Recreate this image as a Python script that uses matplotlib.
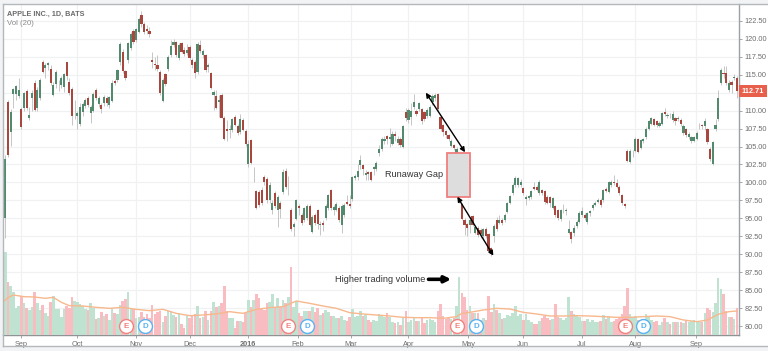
import matplotlib
matplotlib.use("Agg")
import matplotlib.pyplot as plt
from matplotlib.lines import Line2D
from matplotlib.patches import Rectangle
import numpy as np

opens = [110.5,95.0,111.2,107.0,112.3,112.3,112.1,110.2,110.3,112.7,
109.0,111.7,113.9,110.3,111.8,116.8,116.0,116.3,115.8,112.2,
113.7,113.5,113.6,113.3,116.7,114.0,113.0,110.3,109.2,108.1,
109.8,110.7,111.8,109.6,110.0,112.9,110.9,110.8,111.0,111.8,
110.8,111.4,114.1,114.3,116.7,118.2,115.5,117.0,118.7,121.1,
119.8,121.0,123.3,122.0,121.3,121.1,117.0,116.5,116.3,115.4,
111.3,115.1,115.8,117.7,119.2,119.5,117.3,119.4,118.4,118.0,
118.9,117.1,116.7,115.4,119.1,117.7,117.7,116.1,115.2,112.2,
112.0,111.2,112.2,109.0,107.4,107.3,107.3,109.1,107.8,107.0,
108.7,107.2,102.6,105.9,100.7,98.8,98.7,99.0,100.7,100.5,
97.5,96.1,98.5,96.2,97.2,98.6,101.6,100.0,96.2,93.8,
94.9,96.7,95.5,94.8,95.1,96.7,93.1,95.5,96.1,94.0,
94.4,95.0,96.4,98.9,96.2,96.2,96.5,94.1,95.5,97.3,
97.0,97.7,100.6,100.7,102.4,102.4,101.1,101.4,101.4,101.8,
101.9,104.1,104.7,105.8,106.4,106.0,105.4,106.7,105.5,106.0,
104.9,109.8,108.7,109.1,110.5,109.9,110.2,110.2,109.8,109.2,
109.3,111.2,111.7,112.3,109.1,108.0,107.1,106.6,105.1,105.2,
104.1,97.3,97.0,94.8,94.2,94.1,95.3,93.0,93.6,93.4,
92.5,93.5,92.8,90.8,92.5,94.8,94.4,94.8,94.8,95.9,
97.2,98.5,99.6,99.6,99.7,99.2,97.7,97.8,97.9,99.4,
99.3,98.5,98.9,98.8,98.0,97.9,96.5,96.7,96.1,94.9,
96.1,96.0,93.0,93.1,92.9,93.9,94.5,95.5,95.5,94.5,
95.7,96.4,96.9,97.3,97.5,97.5,99.1,98.7,99.6,100.1,
99.9,99.4,98.2,97.0,104.4,102.9,103.9,104.4,106.1,104.8,
105.7,106.3,107.5,108.2,108.8,108.5,107.9,108.2,109.8,109.2,
109.3,108.7,108.9,108.8,108.7,106.9,107.4,106.3,105.8,105.8,
106.1,107.8,108.0,107.9,107.4,104.7,102.6,107.4,108.8,113.8,
115.3,115.2,112.9,114.0,114.5,114.5]

closes = [105.8,103.2,103.8,109.8,113.0,113.4,112.9,107.7,112.4,110.4,
109.4,112.5,110.1,112.8,114.3,115.4,116.4,116.6,113.9,113.6,
115.4,113.6,114.5,115.1,114.8,112.5,109.2,110.4,109.7,110.5,
110.9,111.5,110.8,110.5,112.3,111.7,111.8,110.2,111.9,111.0,
111.9,113.9,113.9,115.6,119.3,115.5,114.6,119.4,120.7,119.6,
121.3,122.7,122.1,121.0,121.1,120.7,116.8,116.3,115.8,112.4,
114.3,113.7,117.5,119.0,119.5,117.7,119.1,118.2,117.9,118.4,
117.3,116.3,115.3,119.3,118.3,118.3,115.6,116.3,113.2,112.6,
110.4,111.5,109.0,106.0,107.2,107.5,108.8,108.0,106.9,108.8,
107.3,105.3,105.4,102.7,100.8,96.5,96.9,97.2,100.0,97.5,
99.6,97.2,96.7,98.0,96.3,101.5,99.4,100.1,93.5,94.2,
97.5,96.5,94.4,96.4,96.7,94.1,95.2,94.3,94.2,94.2,
94.0,96.7,98.2,96.4,96.6,97.0,94.8,96.7,96.8,97.0,
96.7,100.7,100.9,101.6,103.1,101.9,101.3,101.2,100.4,102.1,
102.7,104.7,106.1,106.0,106.0,106.3,106.8,106.4,106.0,105.2,
107.9,108.9,110.1,109.9,111.2,109.5,111.0,108.5,108.8,110.1,
110.5,112.0,112.2,110.2,107.4,107.0,106.6,106.1,105.8,104.8,
104.6,98.0,94.9,94.0,93.7,94.8,94.1,93.8,92.7,92.8,
93.5,92.5,90.4,90.0,93.9,93.5,94.7,94.3,95.5,97.1,
98.1,99.7,100.6,100.6,100.0,98.5,97.9,98.1,98.8,99.1,
99.0,100.0,98.5,97.3,97.2,97.2,97.8,95.4,95.0,96.1,
96.2,96.2,93.5,92.1,93.7,94.5,95.8,96.0,95.1,95.7,
96.0,96.9,97.2,97.5,96.9,98.9,98.8,100.0,100.0,99.9,
99.4,98.5,97.2,96.7,103.0,104.4,104.0,106.1,104.3,105.9,
106.0,107.5,108.5,108.9,108.0,108.0,108.3,109.6,109.5,109.4,
109.2,109.5,108.5,108.9,108.1,107.9,106.6,106.8,106.3,106.3,
106.9,107.9,107.8,108.6,105.6,103.2,105.6,108.0,111.8,115.7,
115.1,113.8,113.8,113.6,114.7,112.71]

highs = [112.0,103.8,111.5,110.2,113.2,113.6,114.6,110.5,112.6,113.0,
110.5,112.8,114.2,113.3,114.5,117.0,116.6,116.8,116.4,114.0,
115.6,114.3,114.8,115.3,116.8,114.6,113.3,111.5,110.0,111.0,
111.2,111.8,112.0,110.8,112.6,113.1,112.0,111.0,112.2,112.0,
112.0,114.3,114.4,115.8,119.5,118.6,115.7,119.6,120.9,121.3,
121.5,123.0,123.9,122.4,121.9,121.7,118.2,117.5,117.7,115.6,
114.5,115.3,117.7,119.9,120.0,119.7,119.4,119.6,118.8,119.3,
119.1,117.3,117.0,119.5,119.9,118.6,117.9,116.6,115.4,112.9,
112.8,112.2,112.5,109.2,108.7,108.0,109.0,109.4,108.1,109.5,
108.9,107.4,105.9,106.1,102.2,99.0,98.9,99.3,101.0,100.8,
100.0,97.5,98.8,98.3,97.4,101.8,102.0,100.9,96.5,94.5,
97.7,97.0,95.8,96.6,97.0,97.0,95.5,95.8,96.3,94.6,
94.7,97.0,98.4,99.1,96.9,97.3,96.7,97.0,97.1,98.2,
98.3,100.9,101.2,102.5,103.8,102.6,101.7,101.6,101.6,102.3,
103.0,105.2,106.3,106.4,106.6,107.6,107.2,107.2,106.4,106.3,
108.0,110.4,110.4,111.0,112.3,110.2,111.2,110.4,110.0,110.3,
110.8,112.3,112.5,112.4,109.3,108.2,107.3,106.8,106.0,105.4,
104.9,98.9,97.2,95.0,94.4,95.2,95.5,94.0,93.9,93.6,
93.7,93.8,93.0,91.0,94.2,95.2,95.4,95.1,95.8,97.3,
98.3,99.9,100.9,100.8,100.5,99.4,98.2,98.3,99.0,100.0,
99.6,100.4,99.1,99.0,98.2,98.1,98.0,96.9,96.3,96.3,
97.0,96.5,94.7,93.3,94.0,94.7,96.0,96.6,95.7,95.9,
96.2,97.1,97.4,97.8,97.8,99.1,99.3,100.2,100.4,101.0,
100.5,99.7,98.4,97.2,104.6,104.6,104.5,106.3,106.2,106.1,
106.2,107.7,108.7,109.1,109.0,108.7,108.5,109.8,110.3,109.6,
109.7,109.9,109.1,109.3,108.9,108.1,107.6,107.0,106.5,106.5,
107.1,108.3,108.2,108.9,107.6,105.0,105.8,108.8,112.9,115.9,
116.2,116.2,114.2,114.3,115.1,114.8]

lows = [104.0,92.2,103.5,105.1,110.3,111.5,111.8,107.4,109.9,110.1,
108.7,110.0,109.9,110.0,111.5,115.2,114.6,115.7,113.6,112.0,
113.1,112.7,113.2,112.6,114.3,112.2,108.0,108.8,107.5,107.8,
109.3,110.3,110.5,108.3,109.8,111.5,110.5,109.7,110.7,110.6,
110.3,111.2,113.6,114.0,116.4,115.2,114.2,116.6,118.4,119.3,
119.5,120.8,121.6,120.6,120.7,120.3,116.0,115.6,115.5,112.2,
111.2,113.4,115.5,117.4,118.9,117.4,117.0,118.0,117.6,117.7,
117.0,116.0,114.5,115.1,118.0,117.3,115.4,115.4,113.0,110.1,
110.2,109.1,108.9,105.9,105.8,106.2,107.0,107.8,106.6,106.8,
107.1,105.1,102.2,102.5,100.0,96.3,96.6,96.9,99.7,97.2,
97.2,95.6,96.4,93.8,95.0,98.4,99.1,98.2,93.3,92.5,
94.7,95.4,94.0,94.5,94.8,93.9,92.9,94.0,93.5,92.7,
93.3,94.8,96.1,96.2,95.5,96.0,94.5,93.0,95.2,96.8,
96.5,97.4,100.3,100.4,101.8,101.0,100.4,100.4,100.2,101.1,
101.6,103.7,104.4,105.4,105.4,105.0,105.2,105.7,105.2,105.0,
104.8,108.6,108.3,108.0,110.2,109.2,109.9,108.2,108.5,108.9,
109.1,110.8,111.4,110.0,107.2,106.5,106.2,105.8,104.9,104.5,
103.8,97.1,94.7,92.7,92.6,93.0,93.9,92.8,92.4,92.2,
92.0,92.2,90.2,89.7,91.7,93.3,94.2,94.0,94.5,95.7,
97.0,98.2,99.3,99.4,99.4,98.2,96.8,97.6,97.7,98.9,
98.8,98.3,98.3,97.0,97.0,96.6,96.3,95.2,94.7,94.6,
95.7,95.5,92.8,91.6,92.6,93.6,94.3,95.2,94.8,94.2,
95.3,96.2,96.7,97.1,96.6,97.3,98.6,98.5,99.4,99.7,
99.2,98.3,96.9,96.4,102.8,102.7,103.6,104.2,104.1,104.6,
105.5,106.1,107.3,108.0,107.8,107.7,107.7,108.0,109.3,109.0,
109.0,108.4,108.0,108.5,107.9,106.6,106.3,106.1,105.5,105.6,
105.9,107.5,107.5,107.3,105.3,103.0,102.4,107.1,108.6,113.6,
114.5,113.5,112.6,112.5,114.2,111.8]

volumes = [198,248,158,148,130,82,87,118,95,82,
75,85,130,97,75,90,65,57,100,117,
78,78,55,78,87,80,113,102,100,92,
88,77,74,95,80,48,52,70,58,62,
45,80,65,63,90,102,108,130,80,78,
50,55,70,55,62,52,90,63,70,73,
40,58,73,70,60,55,65,33,22,58,
52,58,63,88,52,55,72,45,72,100,
83,87,95,148,72,52,52,22,42,42,
40,65,105,85,105,123,110,77,75,95,
100,122,85,110,85,105,95,115,205,85,
102,65,58,72,72,72,83,70,80,60,
65,75,70,57,57,52,52,58,45,42,
55,78,55,58,72,58,60,45,40,45,
42,62,58,55,67,55,38,35,38,30,
50,72,40,45,55,42,42,52,35,45,
48,45,38,72,93,58,48,52,48,50,
87,175,125,115,75,87,65,65,65,45,
50,45,117,70,92,75,65,48,50,60,
58,65,87,58,62,45,62,45,38,33,
32,42,50,58,50,46,48,93,55,52,
45,50,115,72,62,58,55,42,42,48,
40,45,40,38,42,60,48,57,40,42,
48,55,62,87,140,62,55,58,45,45,
42,62,58,45,38,42,30,38,50,40,
34,38,38,38,38,35,42,40,42,45,
40,40,38,65,82,75,68,95,172,138,
122,72,55,55,48,82]

ma_index = [0,2,4,8,12,16,19,22,25,30,35,40,45,50,55,60,65,70,75,80,85,90,95,100,105,108,110,115,120,125,
130,135,140,145,150,155,160,165,170,172,175,180,185,190,195,200,205,210,215,220,225,230,235,240,245,250,255,260,264,268,272,275]
ma_values = [98,112,120,115,114,110,113,98,88,87,83,80,83,77,73,77,65,58,60,63,70,65,77,82,85,95,102,95,87,80,
67,63,60,57,53,52,52,50,55,65,68,75,80,78,68,63,57,57,58,57,55,53,53,55,57,55,45,40,45,62,70,72]

month_labels = ["Sep","Oct","Nov","Dec","2016","Feb","Mar","Apr","May","Jun","Jul","Aug","Sep"]
month_index = [7,28,50,70,92,110.5,130.5,152,174.3,195,217,237,259.7]
price_ticks = [80+2.5*k for k in range(18)]
earnings_index = [46.2,106.9,170.2,233]
dividend_index = [53.3,114,177.3,239.8]
last_price = 112.71

W, H = 768, 351
fig = plt.figure(figsize=(W/100, H/100), dpi=100, facecolor="#f1f3f5")
plt.rcParams["font.family"] = ["Liberation Sans", "DejaVu Sans"]

L, R, T, B = 2.5, 739, 3.5, 335
rect = [L/W, 1-B/H, (R-L)/W, (B-T)/H]
fig.add_artist(Rectangle((L/W, 1-346/H), (W-L)/W, (346-T)/H, transform=fig.transFigure,
                         fc="white", ec="none", zorder=-5))

ax = fig.add_axes(rect, facecolor="white", zorder=1)
ax2 = ax.twinx()
ax2.set_zorder(2)
ax2.patch.set_visible(False)

x = np.arange(len(opens))
o, c, h, l = map(np.array, (opens, closes, highs, lows))
up = c >= o
GREEN, RED = "#53896c", "#a8473d"

ax.set_xlim(-0.05, 275.8)
ax.set_ylim(80+(326-335)/7.18, 80+(326-3.5)/7.18)
ax2.set_ylim(0, (B-T)*3)

ax.vlines(x, l, h, color="#bdbdbd", lw=0.6, zorder=3)
ax.bar(x, np.abs(c-o), bottom=np.minimum(o, c), width=0.8,
       color=np.where(up, GREEN, RED), linewidth=0, zorder=4)

ax2.bar(x, volumes, width=0.96, color=np.where(up, "#bfe2d1", "#f8bcc1"), linewidth=0, zorder=2)
ax2.plot(ma_index, ma_values, color="#f7b88d", lw=1.0, zorder=3)
ax2.set_yticks([])
for s in ax2.spines.values():
    s.set_visible(False)

ax.set_xticks(month_index)
ax.set_xticklabels(month_labels, fontsize=5.3, color="#6d6d6d")
ax.get_xticklabels()[4].set_fontweight("bold")
ax.yaxis.tick_right()
ax.set_yticks(price_ticks)
# the 112.50 label sits under the last-price flag in the reference
ax.set_yticklabels(["" if p == 112.5 else f"{p:.2f}" for p in price_ticks], fontsize=5.3, color="#6d6d6d")
ax.tick_params(axis="x", length=2, width=0.6, color="#999999", pad=2.5)
ax.tick_params(axis="y", length=2.5, width=0.6, color="#999999", pad=1.2)
ax.grid(True, color="#f0f1f2", lw=0.9, zorder=0)
ax.set_axisbelow(True)
for s in ("top", "left"):
    ax.spines[s].set_visible(False)
ax.spines["right"].set_color("#9da1a5")
ax.spines["right"].set_linewidth(1.0)
ax.spines["bottom"].set_color("#8f9396")
ax.spines["bottom"].set_linewidth(1.0)

for xs, ys in (((L, W), (T, T)), ((L, L), (T, 346)), ((L, W), (346, 346))):
    fig.add_artist(Line2D([a/W for a in xs], [1-b/H for b in ys], color="#b4b8bc", lw=1.0, zorder=6))

ax.text(1.0035, last_price, f"{last_price:.2f}", transform=ax.get_yaxis_transform(), va="center", ha="left",
        fontsize=5.3, color="white", fontweight="bold", zorder=8, clip_on=False,
        bbox=dict(boxstyle="square,pad=0.35", fc="#e8604c", ec="none"))

fig.text(7/W, 1-14/H, "APPLE INC., 1D, BATS", fontsize=5.2, color="#6a6a6a", fontweight="bold", va="center", zorder=9)
fig.text(7/W, 1-23.5/H, "Vol (20)", fontsize=5.6, color="#8a8a8a", va="center", zorder=9)

ax.add_patch(Rectangle((166.4, 98.0), 8.6, 6.1, fc="#dddddd", ec="#f07f7f", lw=1.3, zorder=6))
ax.text(165.0, 101.05, "Runaway Gap", fontsize=6.6, color="#333333", ha="right", va="center", zorder=7)
ax.annotate("", xy=(158.5, 112.5), xytext=(173.2, 104.2), zorder=7,
            arrowprops=dict(arrowstyle="<|-|>", color="black", lw=1.0, mutation_scale=7, shrinkA=0, shrinkB=0))
ax.annotate("", xy=(170.3, 98.0), xytext=(183.8, 89.8), zorder=7,
            arrowprops=dict(arrowstyle="<|-|>", color="black", lw=1.0, mutation_scale=7, shrinkA=0, shrinkB=0))
ax2.text(158.5, 0.168, "Higher trading volume", transform=ax2.get_xaxis_transform(), fontsize=6.6,
         color="#333333", ha="right", va="center", zorder=7)
ax2.annotate("", xy=(168, 0.168), xytext=(159.5, 0.168), xycoords=ax2.get_xaxis_transform(),
             textcoords=ax2.get_xaxis_transform(), zorder=7,
             arrowprops=dict(arrowstyle="-|>", color="black", lw=2.6, mutation_scale=9, shrinkA=0, shrinkB=0))

yb = 27
for idx, lab, col in [(earnings_index, "E", "#f2837f"), (dividend_index, "D", "#5cb3f2")]:
    for v in idx:
        ax2.plot([v], [yb], "o", ms=10, mfc="white", mec=col, mew=1.0, zorder=8)
        ax2.text(v, yb-1, lab, color=col, fontsize=5.8, fontweight="bold", ha="center", va="center", zorder=9)

fig.savefig("out.png", dpi=100, facecolor=fig.get_facecolor())
